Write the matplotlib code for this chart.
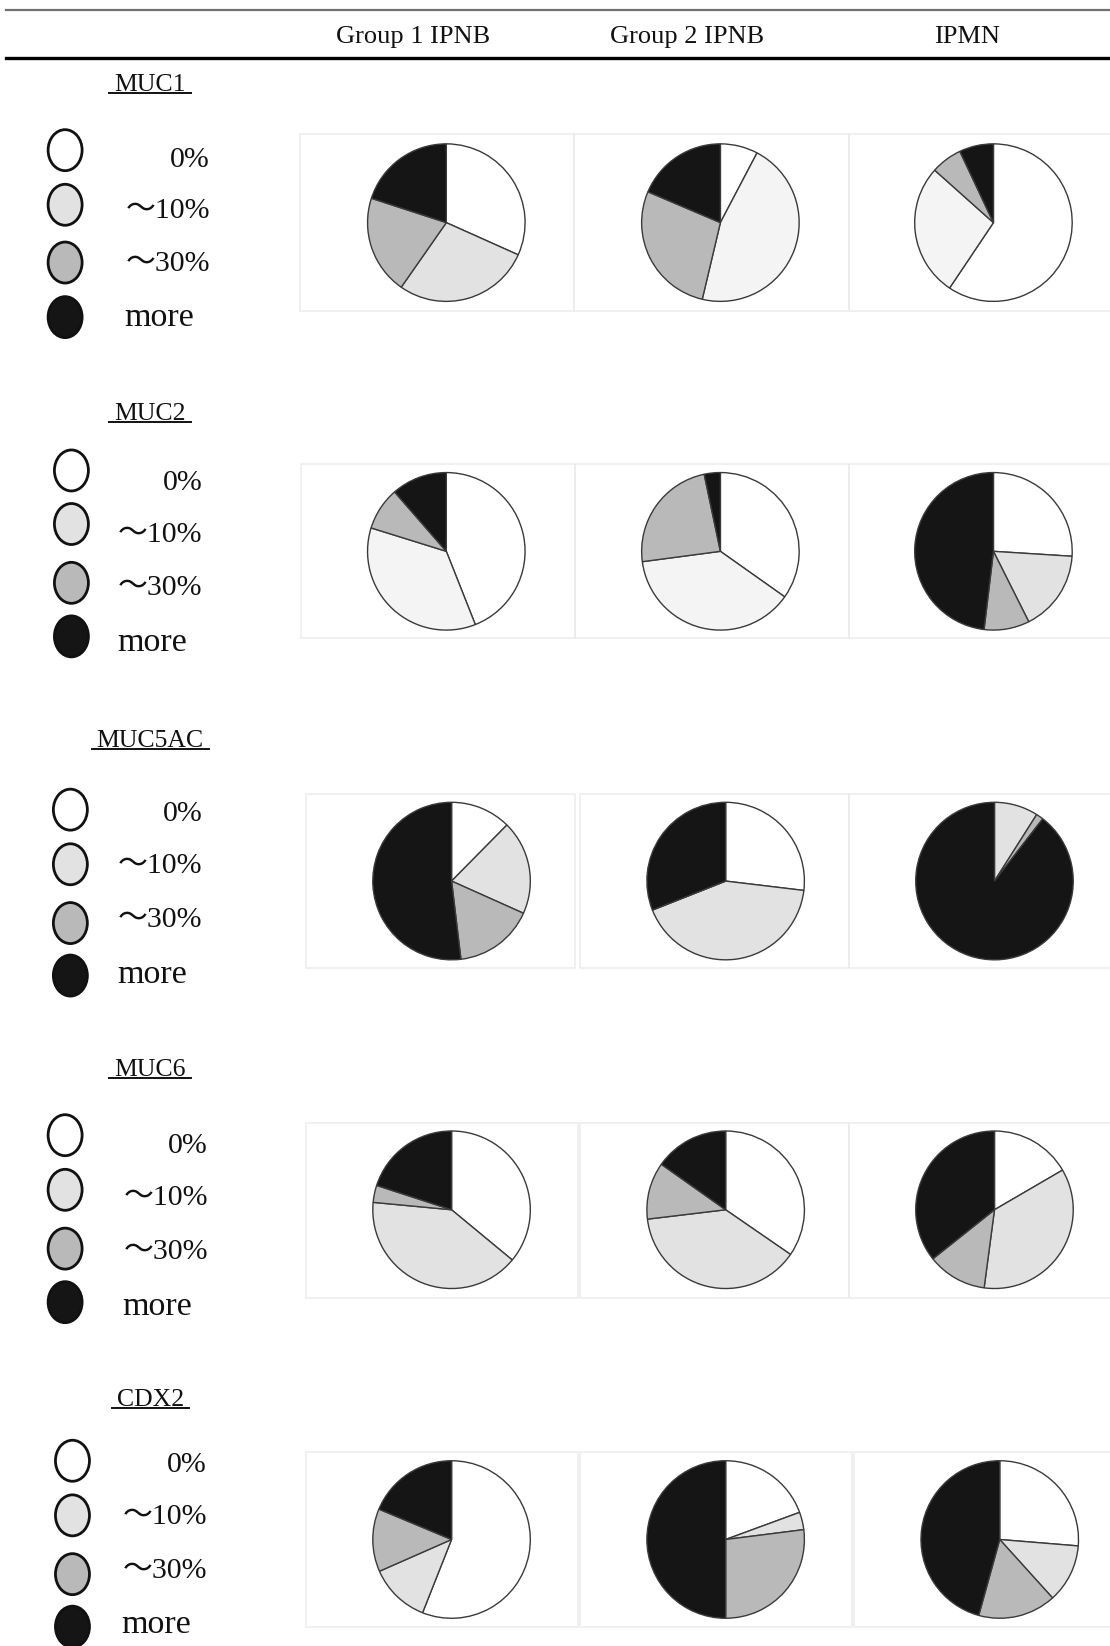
import matplotlib
matplotlib.use("Agg")
import matplotlib.pyplot as plt
from matplotlib.patches import Ellipse, Rectangle
from matplotlib.lines import Line2D

# ---------------- data ----------------
groups = ["Group 1 IPNB", "Group 2 IPNB", "IPMN"]
markers = ["MUC1", "MUC2", "MUC5AC", "MUC6", "CDX2"]
categories = ["0%", "～10%", "～30%", "more"]

# percentages per group, order: 0%, ~10%, ~30%, more
muc1 = [[31.7, 28.0, 20.3, 20.0], [7.7, 46.0, 27.7, 18.6], [59.4, 27.2, 6.4, 7.0]]
muc2 = [[44.0, 35.8, 8.8, 11.4], [34.8, 38.1, 23.8, 3.3], [26.0, 16.6, 9.3, 48.1]]
muc5ac = [[12.4, 19.3, 16.4, 51.9], [26.9, 42.1, 0.0, 31.0], [0.0, 9.0, 1.5, 89.5]]
muc6 = [[36.0, 40.5, 3.5, 20.0], [34.6, 38.5, 11.7, 15.2], [16.6, 35.5, 12.2, 35.7]]
cdx2 = [[56.0, 12.4, 12.9, 18.7], [19.4, 3.6, 27.0, 50.0], [26.3, 12.0, 16.0, 45.7]]
values = [muc1, muc2, muc5ac, muc6, cdx2]

# ---------------- style ----------------
W, H = 1110, 1646
S = 1110 / 1057.0
WHITE, LIGHT, PALE, GREY, BLACK = "#ffffff", "#e2e2e2", "#f4f4f4", "#b9b9b9", "#151515"
legend_colors = [WHITE, LIGHT, GREY, BLACK]
light_shade = [[LIGHT, PALE, PALE], [PALE, PALE, LIGHT], [LIGHT] * 3, [LIGHT] * 3, [LIGHT] * 3]
SERIF = ["Liberation Serif", "Noto Sans CJK JP", "DejaVu Sans"]

fig = plt.figure(figsize=(W / 100, H / 100), dpi=100)
ax = fig.add_axes([0, 0, 1, 1])

def Y(y):
    return H - y * S

def X(x):
    return x * S

# header
ax.add_line(Line2D([6, W], [H - 10, H - 10], color="#707070", lw=1.6))
ax.add_line(Line2D([6, W], [H - 58, H - 58], color="#000000", lw=2.4))
for name, xc in zip(groups, [393, 654, 921]):
    ax.text(X(xc), Y(35), name, fontsize=19, family=SERIF, ha="center", va="center", color="#111111")

# layout per row (shown-image coordinates)
title_y = [81, 394, 706, 1019, 1333]
circle_x = [62, 68, 67, 62, 69]
circle_ys = [[143, 195, 250, 302], [448, 499, 555, 606], [771, 823, 879, 929],
             [1081, 1133, 1189, 1240], [1391, 1443, 1499, 1549]]
label_right = [200, 193, 193, 198, 197]
more_x = [118, 112, 112, 116, 115]
label_ys = [[152, 201, 251, 303], [460, 509, 560, 612], [775, 825, 876, 928],
            [1091, 1141, 1192, 1244], [1395, 1445, 1496, 1547]]
pie_cx = [[425, 686, 946], [425, 686, 946], [430, 691, 947], [430, 691, 947], [430, 691, 952]]
pie_cy = [212, 525, 839, 1152, 1466]
boxes_x = [[(286, 547), (547, 808), (808, 1062)], [(287, 548), (548, 808), (808, 1062)],
           [(291, 548), (552, 808), (808, 1062)], [(291, 550), (552, 808), (808, 1062)],
           [(291, 550), (552, 811), (813, 1062)]]
boxes_y = [(128, 296), (442, 608), (756, 922), (1069, 1236), (1383, 1549)]
R = 75 * S

titles = []
for i, m in enumerate(markers):
    t = ax.text(X(143), Y(title_y[i]), m, fontsize=18.5, family=SERIF, ha="center", va="center", color="#111111")
    titles.append(t)
    # legend
    for k, cat in enumerate(categories):
        ax.add_patch(Ellipse((X(circle_x[i]), Y(circle_ys[i][k])), 34, 41,
                             facecolor=legend_colors[k], edgecolor="#111111", lw=2.0))
        if cat == "more":
            ax.text(X(more_x[i]), Y(label_ys[i][k]), cat, fontsize=24.5, family=SERIF,
                    ha="left", va="center", color="#111111")
        else:
            ax.text(X(label_right[i]), Y(label_ys[i][k]), cat, fontsize=21.5, family=SERIF,
                    ha="right", va="center", color="#111111")
    # boxes and pies
    y0, y1 = boxes_y[i]
    for j in range(3):
        x0, x1 = boxes_x[i][j]
        ax.add_patch(Rectangle((X(x0), Y(y1)), X(x1) - X(x0), (y1 - y0) * S,
                               facecolor="none", edgecolor="#ececec", lw=1.1))
        cols = [WHITE, light_shade[i][j], GREY, BLACK]
        ax.pie(values[i][j], colors=cols, startangle=90, counterclock=False,
               center=(X(pie_cx[i][j]), Y(pie_cy[i])), radius=R, frame=True,
               wedgeprops=dict(edgecolor="#3a3a3a", linewidth=1.0))

ax.set_xlim(0, W)
ax.set_ylim(0, H)
ax.set_aspect("auto")
ax.axis("off")

# underline titles
fig.canvas.draw()
renderer = fig.canvas.get_renderer()
inv = ax.transData.inverted()
for t in titles:
    bb = t.get_window_extent(renderer)
    (xa, ya), (xb, yb) = inv.transform([(bb.x0, bb.y0), (bb.x1, bb.y1)])
    ax.add_line(Line2D([xa - 5, xb + 5], [ya + 3, ya + 3], color="#111111", lw=1.4))

fig.savefig("out.png", dpi=100, facecolor="white")
